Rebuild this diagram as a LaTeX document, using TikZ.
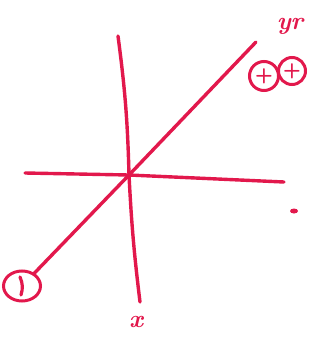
\documentclass[tikz,border=0pt]{standalone}
\usetikzlibrary{positioning, shapes.geometric}
\definecolor{skred}{HTML}{E2184C}

\begin{document}
\begin{tikzpicture}[
    x=1pt, y=-1pt,
    stroke/.style={draw=skred, line width=3.4pt, line cap=round, line join=round},
    sign/.style={circle, draw=skred, line width=3pt, inner sep=0pt,
                 minimum size=29pt, text=skred, font=\huge\sffamily\bfseries},
    lbl/.style={text=skred, font=\Huge\bfseries\itshape}
  ]
    \useasboundingbox (0,0) rectangle (334,349);
    % axis end points
    \coordinate (vtop) at (118,36);
    \coordinate (vbot) at (140,302);
    \coordinate (hleft) at (25,173);
    \coordinate (hright) at (284,182);
    \coordinate (dtop) at (256,42);
    \coordinate (org) at (129,175);
    % signs
    \node[sign] (plusa) at (264,76) {+};
    \node[sign, minimum size=27pt, right=-3pt of plusa, yshift=5pt] (plusb) {+};
    \node[sign, ellipse, minimum width=37pt, minimum height=30pt] (minus) at (22,286) {};
    \draw[stroke, line width=3.2pt] (20,277) to[bend left=20] (21,295);
    % labels
    \node[lbl] (xlab) at (136,322) {x};
    \node[lbl] (ylab) at (290,26) {yr};
    \fill[skred] (294,211) ellipse (4pt and 2.5pt);
    % axes
    \draw[stroke] (vtop) to[bend left=3] (org) to[bend right=2] (vbot);
    \draw[stroke] (hleft) -- (org) -- (hright);
    \draw[stroke] (minus) -- (org) -- (dtop);
\end{tikzpicture}
\end{document}
